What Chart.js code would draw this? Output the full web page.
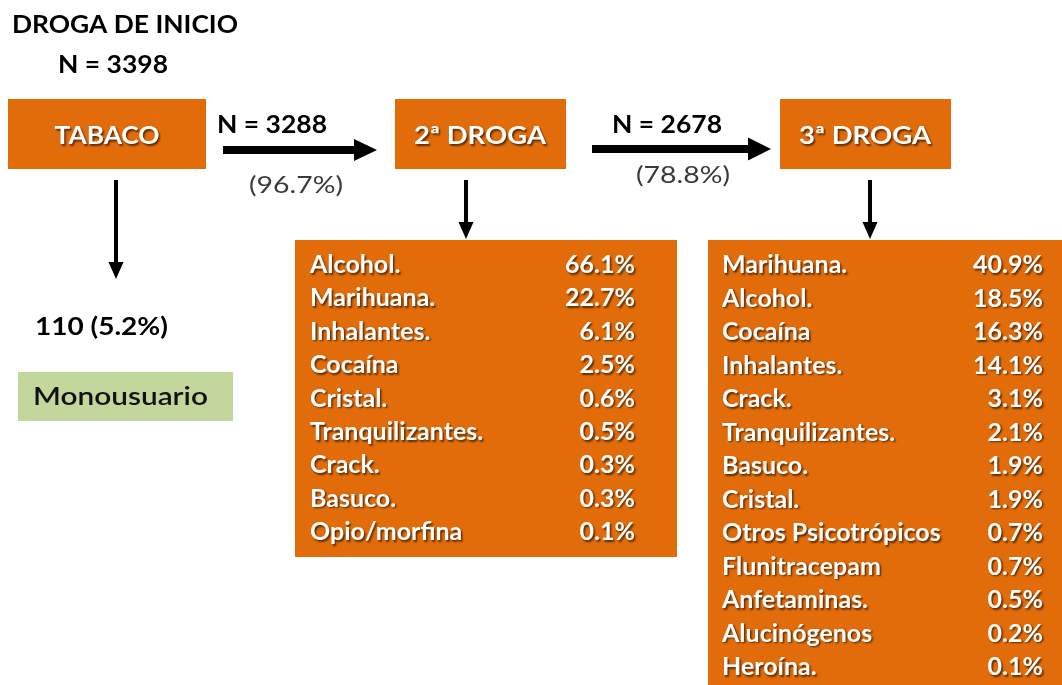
<!DOCTYPE html>
<html>
<head>
<meta charset="utf-8">
<script src="https://cdn.jsdelivr.net/npm/chart.js@4"></script>
<style>
  html, body { margin: 0; padding: 0; background: #fff; }
  #wrap { width: 1062px; height: 685px; position: relative; }
</style>
</head>
<body>
<div id="wrap"><canvas id="myChart"></canvas></div>
<script>
// flow numbers
const nInicio = 3398;
const drogaInicio = 'TABACO';
const nSegunda = 3288;
const pctSegunda = '96.7%';
const nTercera = 2678;
const pctTercera = '78.8%';
const monoN = 110;
const monoPct = '5.2%';

// 2a droga
const segundaDrogas = ['Alcohol.', 'Marihuana.', 'Inhalantes.', 'Cocaína', 'Cristal.', 'Tranquilizantes.', 'Crack.', 'Basuco.', 'Opio/morfina'];
const segundaPcts = [66.1, 22.7, 6.1, 2.5, 0.6, 0.5, 0.3, 0.3, 0.1];

// 3a droga
const terceraDrogas = ['Marihuana.', 'Alcohol.', 'Cocaína', 'Inhalantes.', 'Crack.', 'Tranquilizantes.', 'Basuco.', 'Cristal.', 'Otros Psicotrópicos', 'Flunitracepam', 'Anfetaminas.', 'Alucinógenos', 'Heroína.'];
const terceraPcts = [40.9, 18.5, 16.3, 14.1, 3.1, 2.1, 1.9, 1.9, 0.7, 0.7, 0.5, 0.2, 0.1];

const ORANGE = '#E36C0A';
const GREEN = '#C3D69B';
const FONT = 'Lato, "Open Sans", sans-serif';

const ctx = document.getElementById('myChart');

// draws the whole diagram through the chart's scales
const diagram = {
  id: 'diagram',
  afterDraw(chart) {
    const c = chart.ctx;
    const sx = v => chart.scales.x.getPixelForValue(v);
    const sy = v => chart.scales.y.getPixelForValue(v);

    function box(x1, y1, x2, y2, color) {
      c.fillStyle = color;
      c.fillRect(sx(x1), sy(y1), sx(x2) - sx(x1), sy(y2) - sy(y1));
    }

    function txt(s, x, y, o) {
      o = o || {};
      c.save();
      c.font = (o.weight || 'bold') + ' ' + (o.size || 24) + 'px ' + FONT;
      c.fillStyle = o.color || '#000';
      c.textBaseline = 'alphabetic';
      const w = c.measureText(s).width;
      let k = o.condense || 1;
      if (o.width) k = o.width / w;
      let px = sx(x);
      if (o.align === 'right') px -= w * k;
      if (o.align === 'center') px -= w * k / 2;
      c.translate(px, sy(y));
      c.scale(k, 1);
      if (o.shadow) {
        c.shadowColor = 'rgba(0,0,0,0.6)';
        c.shadowOffsetX = 1.5;
        c.shadowOffsetY = 1.5;
        c.shadowBlur = 2;
      }
      c.fillText(s, 0, 0);
      c.restore();
    }

    function arrowH(x1, x2, y, thick, headLen, headW) {
      c.fillStyle = '#000';
      c.fillRect(sx(x1), sy(y) - thick / 2, sx(x2 - headLen) - sx(x1), thick);
      c.beginPath();
      c.moveTo(sx(x2 - headLen), sy(y) - headW / 2);
      c.lineTo(sx(x2), sy(y));
      c.lineTo(sx(x2 - headLen), sy(y) + headW / 2);
      c.closePath();
      c.fill();
    }

    function arrowV(x, y1, y2, thick, headLen, headW) {
      c.fillStyle = '#000';
      c.fillRect(sx(x) - thick / 2, sy(y1), thick, sy(y2 - headLen) - sy(y1));
      c.beginPath();
      c.moveTo(sx(x) - headW / 2, sy(y2 - headLen));
      c.lineTo(sx(x), sy(y2));
      c.lineTo(sx(x) + headW / 2, sy(y2 - headLen));
      c.closePath();
      c.fill();
    }

    // header
    txt('DROGA DE INICIO', 12, 33, { size: 25, width: 226 });
    txt('N = ' + nInicio, 58, 73, { size: 25, width: 110 });

    // top row boxes
    box(8, 99, 206, 169, ORANGE);
    txt(drogaInicio, 107, 144, { size: 25, color: '#fff', align: 'center', width: 105, shadow: true });
    box(395, 99, 566, 169, ORANGE);
    txt('2ª DROGA', 480, 144, { size: 25, color: '#fff', align: 'center', width: 132, shadow: true });
    box(780, 99, 951, 169, ORANGE);
    txt('3ª DROGA', 865, 144, { size: 25, color: '#fff', align: 'center', width: 132, shadow: true });

    // horizontal arrows
    arrowH(223, 377, 150, 8, 23, 22);
    txt('N = ' + nSegunda, 217, 133, { size: 25, width: 110 });
    txt('(' + pctSegunda + ')', 249, 193, { size: 24, weight: 'normal', color: '#3a3a3a', width: 94 });
    arrowH(592, 771, 149, 8, 23, 23);
    txt('N = ' + nTercera, 612, 133, { size: 25, width: 110 });
    txt('(' + pctTercera + ')', 636, 183, { size: 24, weight: 'normal', color: '#3a3a3a', width: 94 });

    // vertical arrows
    arrowV(116, 180, 279, 4, 17, 15);
    arrowV(466, 180, 239, 4, 17, 15);
    arrowV(870, 180, 239, 4, 17, 15);

    // monousuario
    txt(monoN + ' (' + monoPct + ')', 35, 335, { size: 25, width: 133 });
    box(18, 372, 233, 421, GREEN);
    txt('Monousuario', 33, 405, { size: 25, weight: '600', color: '#111', width: 175 });

    // tables
    box(295, 240, 677, 557, ORANGE);
    segundaDrogas.forEach((d, i) => {
      const y = 273 + i * 33.4;
      txt(d, 310, y, { size: 25, color: '#fff', condense: 1.0, shadow: true });
      txt(segundaPcts[i].toFixed(1) + '%', 635, y, { size: 25, color: '#fff', align: 'right', condense: 1.0, shadow: true });
    });
    box(708, 240, 1062, 685, ORANGE);
    terceraDrogas.forEach((d, i) => {
      const y = 273 + i * 33.5;
      txt(d, 722, y, { size: 25, color: '#fff', condense: 1.0, shadow: true });
      txt(terceraPcts[i].toFixed(1) + '%', 1043, y, { size: 25, color: '#fff', align: 'right', condense: 1.0, shadow: true });
    });
  }
};

new Chart(ctx, {
  type: 'scatter',
  data: { datasets: [{ data: [] }] },
  options: {
    responsive: true,
    maintainAspectRatio: false,
    animation: false,
    layout: { padding: 0 },
    plugins: { legend: { display: false }, tooltip: { enabled: false } },
    scales: {
      x: { type: 'linear', min: 0, max: 1062, display: false },
      y: { type: 'linear', min: 0, max: 685, reverse: true, display: false }
    }
  },
  plugins: [diagram]
});
</script>
</body>
</html>
